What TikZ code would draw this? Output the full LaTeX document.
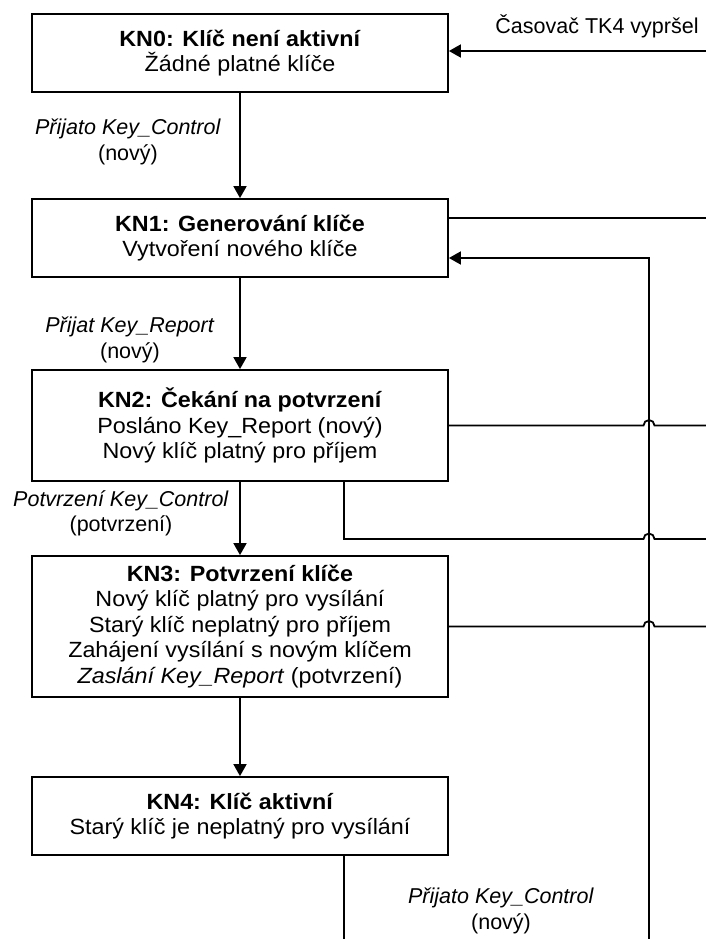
\documentclass[tikz,border=0pt]{standalone}
\usepackage{fontspec}
\setmainfont{Liberation Sans}
\newfontfamily\boxfont{Liberation Sans}[FakeStretch=1.06]
\usetikzlibrary{arrows.meta}

\begin{document}
\begin{tikzpicture}[x=1pt,y=-1pt,
  state/.style={draw, line width=1.8pt, minimum width=416pt, inner sep=0pt,
    align=center, font=\boxfont\fontsize{22}{25.5}\selectfont},
  lbl/.style={align=center, inner sep=0pt, font=\fontsize{21.5}{25.5}\selectfont},
  wire/.style={line width=1.8pt},
  flow/.style={wire, -{Triangle[length=12pt,width=13pt]}}]
  \useasboundingbox (0,0) rectangle (706,939);

  % key states
  \node[state, minimum height=78pt] (kn0) at (240,53)
    {\textbf{KN0: Klíč není aktivní}\\Žádné platné klíče};
  \node[state, minimum height=78pt] (kn1) at (240,238)
    {\textbf{KN1: Generování klíče}\\Vytvoření nového klíče};
  \node[state, minimum height=111pt] (kn2) at (240,425.5)
    {\textbf{KN2: Čekání na potvrzení}\\Posláno Key\_Report (nový)\\Nový klíč platný pro příjem};
  \node[state, minimum height=141pt] (kn3) at (240,626.5)
    {\textbf{KN3: Potvrzení klíče}\\Nový klíč platný pro vysílání\\Starý klíč neplatný pro příjem\\Zahájení vysílání s novým klíčem\\\textit{Zaslání Key\_Report} (potvrzení)};
  \node[state, minimum height=78pt] (kn4) at (240,816)
    {\textbf{KN4: Klíč aktivní}\\Starý klíč je neplatný pro vysílání};

  % free ends at the picture border
  \coordinate (timer) at (706,51);
  \coordinate (out1) at (706,218);
  \coordinate (out2) at (706,425.5);
  \coordinate (out3) at (706,539);
  \coordinate (out4) at (706,626.5);
  \coordinate (ret) at (649,939);
  \coordinate (down4) at (344,939);

  % main sequence
  \draw[flow] (kn0.south) -- (kn1.north);
  \draw[flow] (kn1.south) -- (kn2.north);
  \draw[flow] (kn2.south) -- (kn3.north);
  \draw[flow] (kn3.south) -- (kn4.north);

  % timer expiry back to KN0
  \draw[flow] (timer) -- (timer -| kn0.east);
  \node[lbl] (tlbl) at (597,26) {Časovač TK4 vypršel};

  % exits to the right, hopping over the return line
  \draw[wire] ([yshift=20pt]kn1.east) -- (out1);
  \draw[flow] (ret) |- ([yshift=-20pt]kn1.east);
  \draw[wire] (kn2.east) -- ([xshift=-5.5pt]out2 -| ret)
    arc[start angle=180, end angle=0, radius=5.5pt] -- (out2);
  \draw[wire] ([xshift=104pt]kn2.south) |- ([xshift=-5.5pt]out3 -| ret)
    arc[start angle=180, end angle=0, radius=5.5pt] -- (out3);
  \draw[wire] (kn3.east) -- ([xshift=-5.5pt]out4 -| ret)
    arc[start angle=180, end angle=0, radius=5.5pt] -- (out4);
  \draw[wire] ([xshift=104pt]kn4.south) -- (down4);

  % transition labels
  \node[lbl] (l01) at (128,142) {\textit{Přijato Key\_Control}\\(nový)};
  \node[lbl] (l12) at (130,340) {\textit{Přijat Key\_Report}\\(nový)};
  \node[lbl] (l23) at (121,513.5) {\textit{Potvrzení Key\_Control}\\(potvrzení)};
  \node[lbl] (l4) at (501,911) {\textit{Přijato Key\_Control}\\(nový)};
\end{tikzpicture}
\end{document}
